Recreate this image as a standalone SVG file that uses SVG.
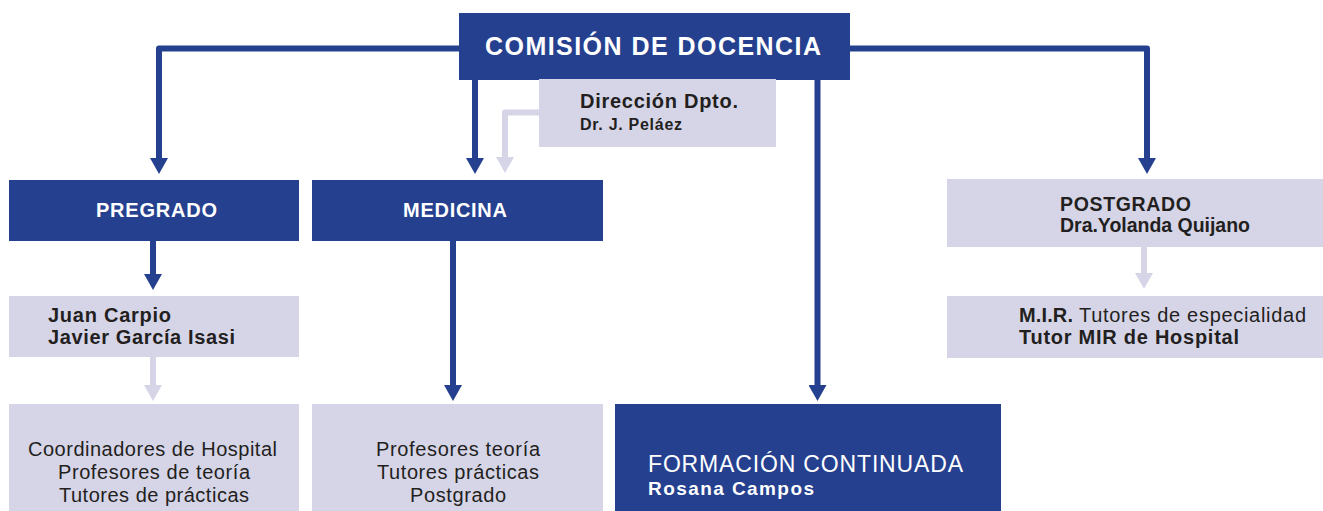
<svg xmlns="http://www.w3.org/2000/svg" width="1323" height="511" viewBox="0 0 1323 511">
<style>
.dark{fill:#25408f}
.light{fill:#d6d5e8}
.t{font-family:"Liberation Sans",Arial,Helvetica,sans-serif;fill:#231f20}
.b{font-weight:bold}
.w{fill:#ffffff}
.cb{fill:none;stroke:#25408f;stroke-width:6;stroke-linejoin:round}
.cl{fill:none;stroke:#d6d5e8;stroke-width:6;stroke-linejoin:round}
</style>
<defs>
<marker id="ab" markerUnits="userSpaceOnUse" markerWidth="17" markerHeight="18" refX="0" refY="9" orient="auto" viewBox="0 0 17 18">
<path d="M0,0 L16,9 L0,18 z" fill="#25408f"/>
</marker>
<marker id="al" markerUnits="userSpaceOnUse" markerWidth="17" markerHeight="18" refX="0" refY="9" orient="auto" viewBox="0 0 17 18">
<path d="M0,0 L16,9 L0,18 z" fill="#d6d5e8"/>
</marker>
</defs>
<rect width="1323" height="511" fill="#ffffff"/>
<g id="connectors">
<path class="cb" d="M460,48.5 H159 V158" marker-end="url(#ab)"/>
<path class="cb" d="M475,80 V158" marker-end="url(#ab)"/>
<path class="cb" d="M849,48.5 H1147 V158" marker-end="url(#ab)"/>
<path class="cb" d="M817.5,80 V385" marker-end="url(#ab)"/>
<path class="cb" d="M153,241 V274" marker-end="url(#ab)"/>
<path class="cb" d="M453,241 V385" marker-end="url(#ab)"/>
<path class="cl" d="M540,112.5 H505 V157" marker-end="url(#al)"/>
<path class="cl" d="M153,357 V385" marker-end="url(#al)"/>
<path class="cl" d="M1144,247 V273" marker-end="url(#al)"/>
</g>
<g id="comision">
<rect class="dark" x="459" y="13" width="391" height="67"/>
<text class="t b w" x="485" y="55" font-size="25" textLength="336" lengthAdjust="spacing">COMISIÓN DE DOCENCIA</text>
</g>
<g id="direccion">
<rect class="light" x="539" y="79" width="237" height="68"/>
<text class="t b" x="580" y="108" font-size="20" textLength="158" lengthAdjust="spacing">Dirección Dpto.</text>
<text class="t b" x="580" y="130" font-size="16" textLength="102" lengthAdjust="spacing">Dr. J. Peláez</text>
</g>
<g id="pregrado">
<rect class="dark" x="9" y="180" width="290" height="61"/>
<text class="t b w" x="96" y="217" font-size="20" textLength="121" lengthAdjust="spacing">PREGRADO</text>
</g>
<g id="medicina">
<rect class="dark" x="312" y="180" width="291" height="61"/>
<text class="t b w" x="403" y="217" font-size="20" textLength="104" lengthAdjust="spacing">MEDICINA</text>
</g>
<g id="postgrado">
<rect class="light" x="947" y="179" width="376" height="68"/>
<text class="t b" x="1060" y="211" font-size="19.5" textLength="131" lengthAdjust="spacing">POSTGRADO</text>
<text class="t b" x="1060" y="232" font-size="19.5" textLength="190" lengthAdjust="spacing">Dra.Yolanda Quijano</text>
</g>
<g id="coordinadores-pregrado">
<rect class="light" x="9" y="296" width="290" height="61"/>
<text class="t b" x="48" y="322" font-size="20" textLength="123" lengthAdjust="spacing">Juan Carpio</text>
<text class="t b" x="48" y="344" font-size="20" textLength="187" lengthAdjust="spacing">Javier García Isasi</text>
</g>
<g id="mir">
<rect class="light" x="947" y="296" width="376" height="62"/>
<text class="t b" x="1019" y="322" font-size="20" textLength="54" lengthAdjust="spacing">M.I.R.</text>
<text class="t" x="1079" y="322" font-size="20" textLength="227" lengthAdjust="spacing">Tutores de especialidad</text>
<text class="t b" x="1019" y="344" font-size="20" textLength="220" lengthAdjust="spacing">Tutor MIR de Hospital</text>
</g>
<g id="profesorado-pregrado">
<rect class="light" x="9" y="404" width="290" height="107"/>
<text class="t" x="28" y="456" font-size="20" textLength="249" lengthAdjust="spacing">Coordinadores de Hospital</text>
<text class="t" x="58" y="479" font-size="20" textLength="192" lengthAdjust="spacing">Profesores de teoría</text>
<text class="t" x="59" y="502" font-size="20" textLength="190" lengthAdjust="spacing">Tutores de prácticas</text>
</g>
<g id="profesorado-medicina">
<rect class="light" x="312" y="404" width="291" height="107"/>
<text class="t" x="376" y="456" font-size="20" textLength="164" lengthAdjust="spacing">Profesores teoría</text>
<text class="t" x="377" y="479" font-size="20" textLength="162" lengthAdjust="spacing">Tutores prácticas</text>
<text class="t" x="410" y="502" font-size="20" textLength="96" lengthAdjust="spacing">Postgrado</text>
</g>
<g id="formacion">
<rect class="dark" x="615" y="404" width="386" height="107"/>
<text class="t w" x="648" y="472" font-size="23" textLength="315" lengthAdjust="spacing">FORMACIÓN CONTINUADA</text>
<text class="t b w" x="648" y="495" font-size="19" textLength="166" lengthAdjust="spacing">Rosana Campos</text>
</g>
</svg>
